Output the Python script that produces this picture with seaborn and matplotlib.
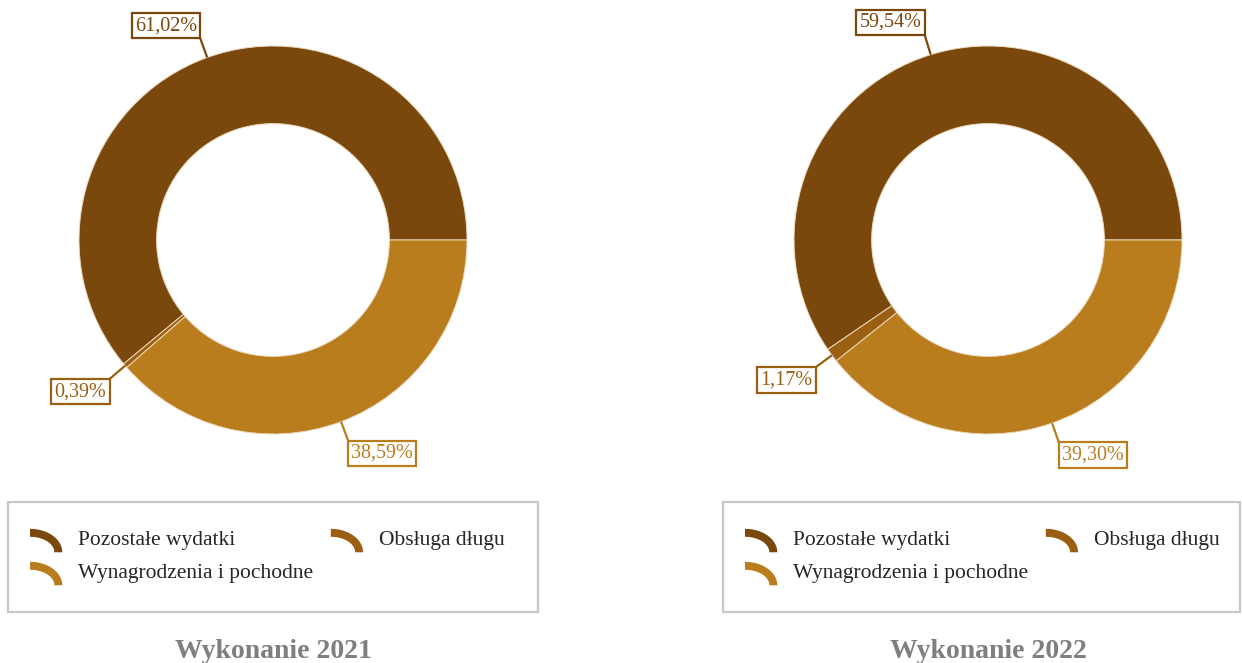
import numpy as np
import matplotlib
matplotlib.use("Agg")
import matplotlib.pyplot as plt
import seaborn as sns
from matplotlib.legend_handler import HandlerBase
from matplotlib.patches import Polygon, Rectangle, Wedge

# --- data -------------------------------------------------------------
categories = ["Pozostałe wydatki", "Obsługa długu", "Wynagrodzenia i pochodne"]
share_2021 = [61.02, 0.39, 38.59]
share_2022 = [59.54, 1.17, 39.30]
titles = ["Wykonanie 2021", "Wykonanie 2022"]
colors = ["#7A480C", "#9A5F13", "#B97D1E"]

sns.set_theme(style="white")
plt.rcParams["font.family"] = ["Liberation Serif", "DejaVu Serif"]

W_PX, H_PX = 1242, 663
fig = plt.figure(figsize=(W_PX / 100, H_PX / 100), dpi=100)

FS = 15.5             # legend text size
LFS = 14.5            # value label size
R_PX = 194.0          # outer radius in pixels
HALF = 270.0          # half size of each donut axes in pixels
centers = [(273, 240), (988, 240)]
legend_boxes = [(8, 502, 538, 612), (723, 502, 1240, 612)]


def fig_rect(x0, y0, x1, y1):
    return [x0 / W_PX, 1 - y1 / H_PX, (x1 - x0) / W_PX, (y1 - y0) / H_PX]


class ArcHandler(HandlerBase):
    """Legend key drawn as a quarter of a ring."""

    def create_artists(self, legend, orig_handle, xdescent, ydescent,
                       width, height, fontsize, trans):
        x0, y0 = -xdescent, -ydescent - 0.12 * height
        w, h = width, height * 1.0
        th = 0.34 * min(w, h)
        t = np.linspace(0, np.pi / 2, 40)
        outer = np.column_stack([x0 + w * np.cos(t), y0 + h * np.sin(t)])
        inner = np.column_stack([x0 + (w - th) * np.cos(t[::-1]),
                                 y0 + (h - th) * np.sin(t[::-1])])
        poly = Polygon(np.vstack([outer, inner]), closed=True,
                       facecolor=orig_handle.get_facecolor(),
                       edgecolor="none", transform=trans)
        return [poly]


for (cx, cy), values, title, lb in zip(centers, [share_2021, share_2022],
                                      titles, legend_boxes):
    ax = fig.add_axes(fig_rect(cx - HALF, cy - HALF, cx + HALF, cy + HALF))

    wedges, _ = ax.pie(values, colors=colors, startangle=0, counterclock=True,
                       radius=1.0,
                       wedgeprops=dict(width=0.4, edgecolor="#EBD9BC",
                                       linewidth=0.7))
    lim = HALF / R_PX
    ax.set_xlim(-lim, lim)
    ax.set_ylim(-lim, lim)
    ax.set_aspect("equal")
    ax.axis("off")

    # value labels with leader lines
    start = 0.0
    for v, col in zip(values, colors):
        ang = np.deg2rad(start + v * 3.6 / 2)
        start += v * 3.6
        px, py = np.cos(ang), np.sin(ang)
        ex, ey = 1.105 * px, 1.105 * py
        ax.plot([px, ex], [py, ey], color=col, lw=1.6, solid_capstyle="butt")
        ha = "right" if px < 0 else "left"
        va = "bottom" if py > 0 else "top"
        pad = 0.16 * LFS
        ax.annotate(f"{v:.2f}%".replace(".", ","), xy=(ex, ey),
                    xytext=(pad * np.sign(px), pad * np.sign(py)),
                    textcoords="offset points", ha=ha, va=va,
                    fontsize=LFS, color=col, annotation_clip=False,
                    bbox=dict(boxstyle="square,pad=0.16", fc="white",
                              ec=col, lw=1.6))

    # legend frame
    x0, y0, x1, y1 = lb
    fig.patches.append(Rectangle((x0 / W_PX, 1 - y1 / H_PX),
                                 (x1 - x0) / W_PX, (y1 - y0) / H_PX,
                                 transform=fig.transFigure, fill=False,
                                 ec="#C8C8C8", lw=1.6))

    order = [0, 2, 1]
    fig.legend([wedges[i] for i in order],
               [categories[i] for i in order],
               handler_map={Wedge: ArcHandler()},
               loc="upper left",
               bbox_to_anchor=((x0 + 22) / W_PX, 1 - (y0 + 24) / H_PX),
               ncol=2, frameon=False, fontsize=FS, borderpad=0,
               borderaxespad=0, handlelength=1.5, handleheight=1.3,
               handletextpad=0.75, labelspacing=0.42, columnspacing=0.8,
               labelcolor="#262626")

    fig.text(cx / W_PX, 1 - 651 / H_PX, title, ha="center", va="center",
             fontsize=20, fontweight="bold", color="#7F7F7F")

fig.savefig("out.png", dpi=100)
